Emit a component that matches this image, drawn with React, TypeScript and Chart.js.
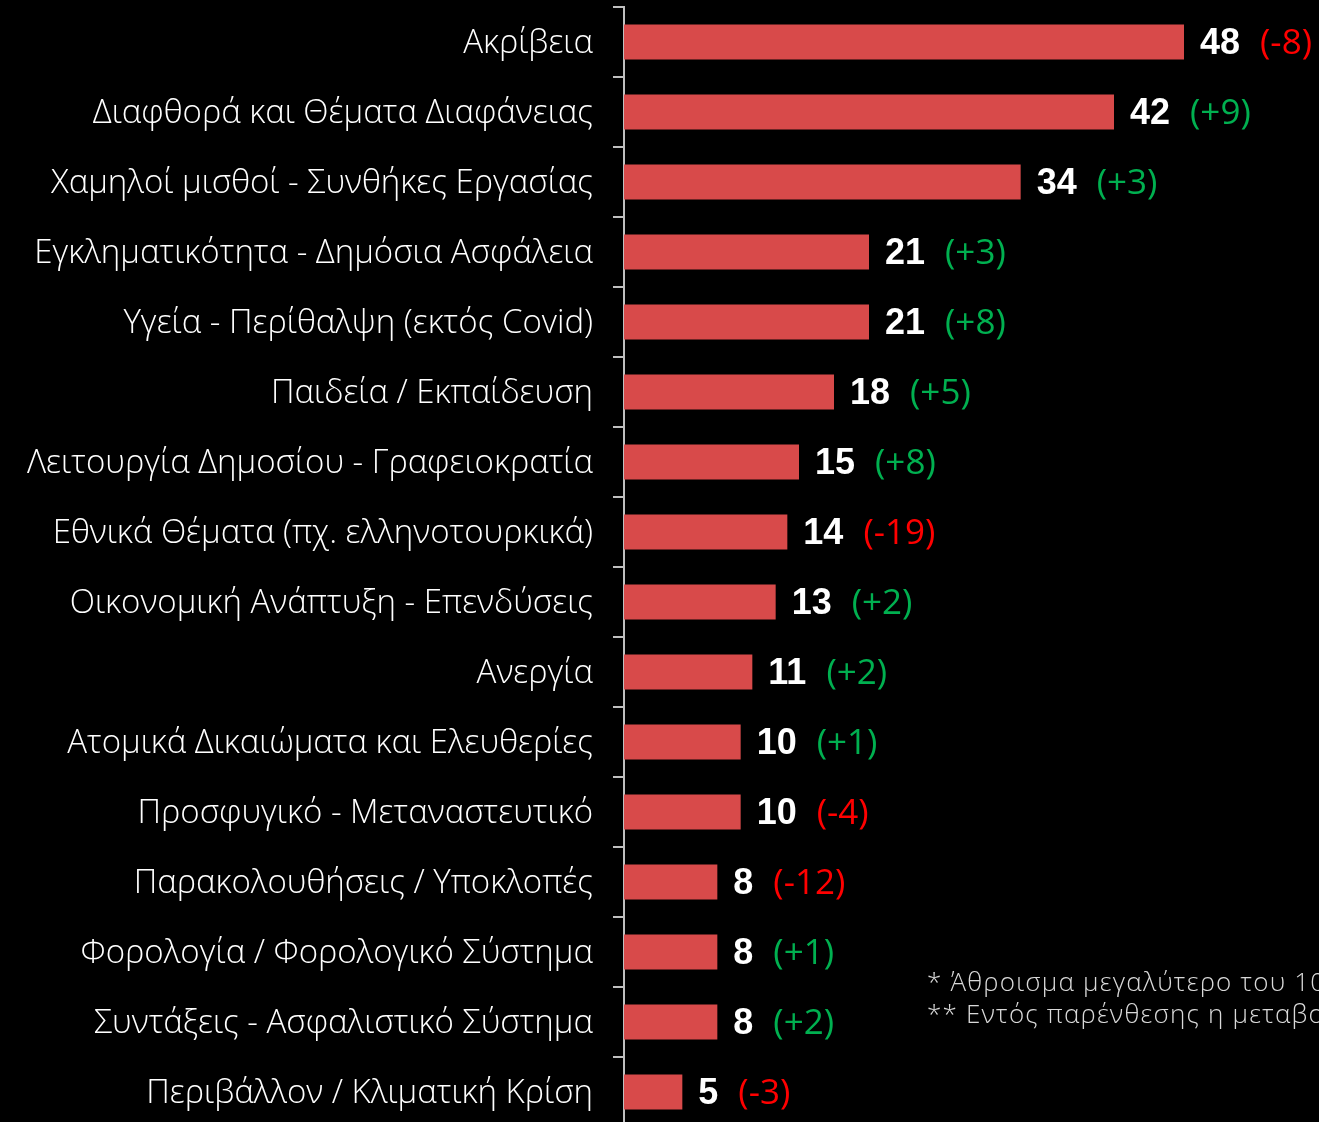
import React, { useEffect, useRef } from "react";
import { Chart, registerables } from "chart.js";

Chart.register(...registerables);

const categories: string[] = [
  "Ακρίβεια",
  "Διαφθορά και Θέματα Διαφάνειας",
  "Χαμηλοί μισθοί - Συνθήκες Εργασίας",
  "Εγκληματικότητα - Δημόσια Ασφάλεια",
  "Υγεία - Περίθαλψη (εκτός Covid)",
  "Παιδεία / Εκπαίδευση",
  "Λειτουργία Δημοσίου - Γραφειοκρατία",
  "Εθνικά Θέματα (πχ. ελληνοτουρκικά)",
  "Οικονομική Ανάπτυξη - Επενδύσεις",
  "Ανεργία",
  "Ατομικά Δικαιώματα και Ελευθερίες",
  "Προσφυγικό - Μεταναστευτικό",
  "Παρακολουθήσεις / Υποκλοπές",
  "Φορολογία / Φορολογικό Σύστημα",
  "Συντάξεις - Ασφαλιστικό Σύστημα",
  "Περιβάλλον / Κλιματική Κρίση",
];

const values: number[] = [48, 42, 34, 21, 21, 18, 15, 14, 13, 11, 10, 10, 8, 8, 8, 5];

const changes: number[] = [-8, 9, 3, 3, 8, 5, 8, -19, 2, 2, 1, -4, -12, 1, 2, -3];

const footnotes: string[] = [
  "* Άθροισμα μεγαλύτερο του 100%",
  "** Εντός παρένθεσης η μεταβολή σε σχέση με την προηγούμενη μέτρηση",
];

const W = 1319;
const H = 1122;
const CANVAS_H = 1127;
const AXIS_X = 624;
const PX_PER_UNIT = 560 / 48;
const LABEL_FONT = "'Open Sans', 'DejaVu Sans', sans-serif";
const LABEL_WEIGHT = "300";

function fitLabelSize(): number {
  const c = document.createElement("canvas").getContext("2d")!;
  c.font = `${LABEL_WEIGHT} 28px ${LABEL_FONT}`;
  const w = c.measureText("Εγκληματικότητα - Δημόσια Ασφάλεια").width;
  return Math.min(33, (28 * 575) / w);
}

const valueLabels = {
  id: "valueLabels",
  afterDatasetsDraw(chart: any) {
    const ctx = chart.ctx;
    const meta = chart.getDatasetMeta(0);
    ctx.save();
    ctx.textBaseline = "middle";
    ctx.textAlign = "left";
    meta.data.forEach((bar: any, i: number) => {
      const x0 = bar.x + 16;
      const y = bar.y + 2;
      ctx.font = "bold 36px 'Liberation Sans', Arial, sans-serif";
      ctx.fillStyle = "#ffffff";
      const vt = String(values[i]);
      ctx.fillText(vt, x0, y);
      const vw = ctx.measureText(vt).width;
      const ch = changes[i];
      ctx.font = `400 35px ${LABEL_FONT}`;
      ctx.fillStyle = ch >= 0 ? "#00b050" : "#ff0000";
      ctx.fillText(`(${ch >= 0 ? "+" : ""}${ch})`, x0 + vw + 20, y);
    });
    ctx.font = `${LABEL_WEIGHT} 26px ${LABEL_FONT}`;
    ctx.fillStyle = "#d9d9d9";
    (ctx as any).letterSpacing = "1.2px";
    footnotes.forEach((t, i) => ctx.fillText(t, 927, 984 + i * 32));
    (ctx as any).letterSpacing = "0px";
    ctx.restore();
  },
};

export default function App() {
  const ref = useRef<HTMLCanvasElement | null>(null);
  useEffect(() => {
    document.body.style.margin = "0";
    document.body.style.background = "#000000";
    const size = fitLabelSize();
    const chart = new Chart(ref.current!, {
      type: "bar",
      data: {
        labels: categories,
        datasets: [
          {
            data: values,
            backgroundColor: "#d84a4a",
            borderWidth: 0,
            barPercentage: 0.5,
            categoryPercentage: 1,
          },
        ],
      },
      options: {
        indexAxis: "y",
        responsive: false,
        animation: false,
        layout: { padding: { top: 7, bottom: 0, left: 0, right: 0 } },
        plugins: { legend: { display: false }, tooltip: { enabled: false } },
        scales: {
          x: {
            display: false,
            min: 0,
            max: (W - AXIS_X) / PX_PER_UNIT,
          },
          y: {
            afterFit: (s: any) => {
              s.width = AXIS_X;
              s.paddingTop = 0;
              s.paddingBottom = 0;
            },
            border: { display: true, color: "#bfbfbf", width: 2 },
            grid: {
              display: true,
              drawOnChartArea: false,
              drawTicks: true,
              tickLength: 11,
              color: "#bfbfbf",
              lineWidth: 2,
            },
            ticks: {
              color: "#ffffff",
              padding: 20,
              labelOffset: 2,
              font: { family: LABEL_FONT, size, weight: LABEL_WEIGHT as any },
            },
          },
        },
      },
      plugins: [valueLabels],
    });
    return () => chart.destroy();
  }, []);
  return (
    <div style={{ width: W, height: H, background: "#000", overflow: "hidden" }}>
      <canvas ref={ref} width={W} height={CANVAS_H} style={{ display: "block" }} />
    </div>
  );
}
